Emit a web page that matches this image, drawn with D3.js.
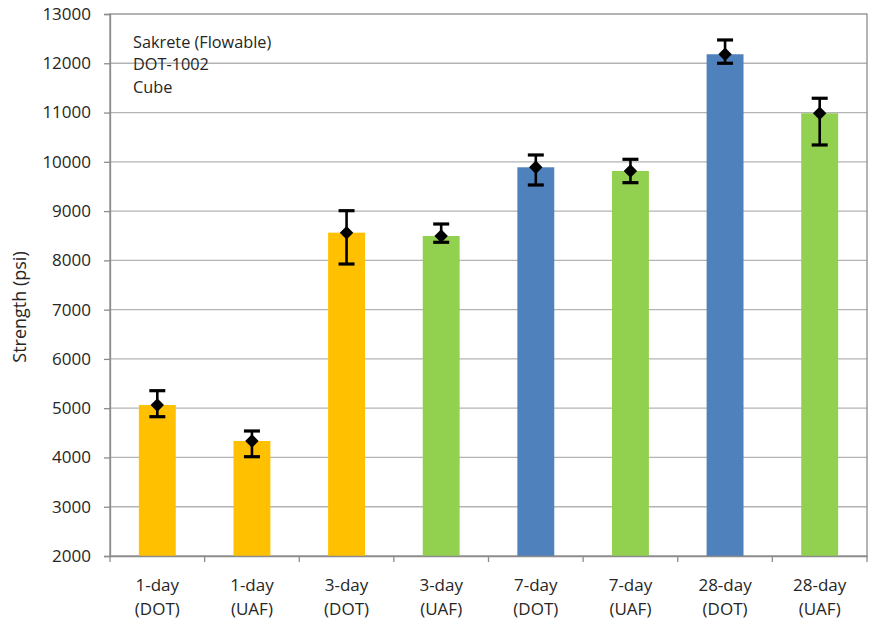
<!DOCTYPE html>
<html>
<head>
<meta charset="utf-8">
<script src="https://cdn.jsdelivr.net/npm/d3@7/dist/d3.min.js"></script>
<style>
  html, body { margin: 0; padding: 0; background: #fff; }
  svg { display: block; font-family: "Open Sans", sans-serif; }
</style>
</head>
<body>
<svg id="chart" width="873" height="623"></svg>
<script>
const categories = ["1-day|(DOT)", "1-day|(UAF)", "3-day|(DOT)", "3-day|(UAF)", "7-day|(DOT)", "7-day|(UAF)", "28-day|(DOT)", "28-day|(UAF)"];
const groups = ["early", "early", "early", "uaf", "dot", "uaf", "dot", "uaf"];
const strength = [5065, 4334, 8562, 8495, 9889, 9814, 12183, 10985];
const errHigh = [5355, 4537, 9008, 8738, 10139, 10051, 12473, 11290];
const errLow = [4827, 4015, 7926, 8367, 9530, 9577, 12000, 10342];
const yTicks = [2000, 3000, 4000, 5000, 6000, 7000, 8000, 9000, 10000, 11000, 12000, 13000];
const noteLines = ["Sakrete (Flowable)", "DOT-1002", "Cube"];
const colorMap = { early: "#FFC000", uaf: "#92D050", dot: "#4F81BD" };

const svg = d3.select("#chart");
const margin = { left: 110, right: 6, top: 14, bottom: 67 };
const W = 873, H = 623;
const x = d3.scaleBand().domain(categories).range([margin.left, W - margin.right]).paddingInner(0.61).paddingOuter(0.305);
const xb = d3.scaleBand().domain(categories).range([margin.left, W - margin.right]);
const y = d3.scaleLinear().domain([2000, 13000]).range([H - margin.bottom, margin.top]);

// gridlines
svg.append("g").selectAll("line").data(yTicks.filter(d => d > 2000 && d < 13000)).join("line")
  .attr("x1", margin.left).attr("x2", W - margin.right)
  .attr("y1", d => y(d)).attr("y2", d => y(d))
  .attr("stroke", "#b3b3b3").attr("stroke-width", 1.3);

// plot border
svg.append("rect").attr("x", margin.left).attr("y", margin.top)
  .attr("width", W - margin.right - margin.left).attr("height", H - margin.bottom - margin.top)
  .attr("fill", "none").attr("stroke", "#8c8c8c").attr("stroke-width", 1.3);

// bars
svg.append("g").selectAll("rect").data(strength).join("rect")
  .attr("x", (d, i) => x(categories[i]))
  .attr("width", x.bandwidth())
  .attr("y", d => y(d))
  .attr("height", d => y(2000) - y(d))
  .attr("fill", (d, i) => colorMap[groups[i]]);

// y axis
const yAxis = svg.append("g").attr("transform", `translate(${margin.left},0)`)
  .call(d3.axisLeft(y).tickValues(yTicks).tickSize(6).tickPadding(13).tickFormat(d3.format("d")));
yAxis.select(".domain").attr("stroke", "#8c8c8c").attr("stroke-width", 1.3);
yAxis.selectAll(".tick line").attr("stroke", "#8c8c8c").attr("stroke-width", 1.3);
yAxis.selectAll("text").attr("font-size", 17).attr("fill", "#262626").attr("font-family", "Open Sans");

// x axis
const xAxis = svg.append("g").attr("transform", `translate(0,${H - margin.bottom})`)
  .call(d3.axisBottom(xb).tickSize(0).tickFormat(""));
xAxis.select(".domain").attr("stroke", "#8c8c8c").attr("stroke-width", 1.3);
const bounds = [margin.left].concat(categories.map(c => xb(c) + xb.bandwidth()));
svg.append("g").selectAll("line").data(bounds).join("line")
  .attr("x1", d => d).attr("x2", d => d)
  .attr("y1", H - margin.bottom).attr("y2", H - margin.bottom + 6)
  .attr("stroke", "#8c8c8c").attr("stroke-width", 1.3);
const xl = svg.append("g").selectAll("text").data(categories).join("text")
  .attr("x", d => xb(d) + xb.bandwidth() / 2)
  .attr("y", 591)
  .attr("text-anchor", "middle")
  .attr("font-size", 17).attr("fill", "#262626");
xl.each(function(d) {
  const parts = d.split("|");
  d3.select(this).selectAll("tspan").data(parts).join("tspan")
    .attr("x", xb(d) + xb.bandwidth() / 2)
    .attr("dy", (p, i) => i === 0 ? 0 : 23.5)
    .text(p => p);
});

// y title
svg.append("text").attr("transform", `translate(26,${(margin.top + H - margin.bottom) / 2 + 22}) rotate(-90)`)
  .attr("text-anchor", "middle").attr("font-size", 18).attr("fill", "#262626")
  .text("Strength (psi)");

// note
svg.append("g").selectAll("text").data(noteLines).join("text")
  .attr("x", 133).attr("y", (d, i) => 48 + i * 22.4)
  .attr("font-size", 16.3).attr("fill", "#262626")
  .text(d => d);

// error bars
const eg = svg.append("g");
categories.forEach((c, i) => {
  const cx = xb(c) + xb.bandwidth() / 2;
  const g = eg.append("g");
  g.append("line").attr("x1", cx).attr("x2", cx).attr("y1", y(errHigh[i])).attr("y2", y(errLow[i]))
    .attr("stroke", "#000").attr("stroke-width", 2.6);
  [errHigh[i], errLow[i]].forEach(v => {
    g.append("line").attr("x1", cx - 8).attr("x2", cx + 8).attr("y1", y(v)).attr("y2", y(v))
      .attr("stroke", "#000").attr("stroke-width", 3.2);
  });
  g.append("path")
    .attr("d", d3.symbol().type(d3.symbolDiamond2).size(115)())
    .attr("transform", `translate(${cx},${y(strength[i])})`)
    .attr("fill", "#000");
});
</script>
</body>
</html>
